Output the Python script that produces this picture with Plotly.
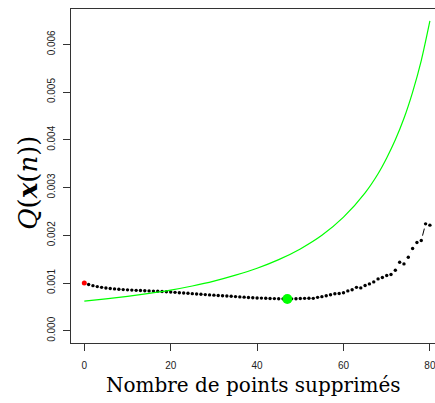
import plotly.graph_objects as go

# ---- data ----
n_removed = list(range(0, 81))
q_values = [1.000, 0.968, 0.945, 0.925, 0.910, 0.897, 0.886, 0.877, 0.869, 0.863,
            0.857, 0.852, 0.847, 0.843, 0.839, 0.835, 0.831, 0.827, 0.822, 0.817,
            0.811, 0.805, 0.798, 0.791, 0.785, 0.778, 0.771, 0.764, 0.758, 0.752,
            0.746, 0.740, 0.734, 0.728, 0.722, 0.716, 0.710, 0.704, 0.698, 0.693,
            0.688, 0.684, 0.680, 0.677, 0.674, 0.671, 0.669, 0.667, 0.669, 0.672,
            0.675, 0.679, 0.681, 0.679, 0.700, 0.715, 0.735, 0.755, 0.775, 0.782,
            0.795, 0.835, 0.860, 0.910, 0.898, 0.947, 0.982, 1.024, 1.087, 1.115,
            1.157, 1.178, 1.268, 1.436, 1.401, 1.541, 1.723, 1.848, 1.890, 2.240,
            2.212]
q_values = [v * 1e-3 for v in q_values]

curve_x = [0, 5, 10, 15, 20, 25, 30, 35, 40, 45, 50, 55, 60, 65, 68, 70, 72, 74, 76, 78, 80]
curve_y = [0.620, 0.668, 0.722, 0.783, 0.852, 0.938, 1.040, 1.165, 1.310, 1.490, 1.715,
           2.000, 2.380, 2.890, 3.290, 3.620, 4.000, 4.450, 5.000, 5.660, 6.490]
curve_y = [v * 1e-3 for v in curve_y]

x_ticks = [0, 20, 40, 60, 80]
y_ticks = [0.000, 0.001, 0.002, 0.003, 0.004, 0.005, 0.006]
y_tick_labels = ["0.000", "0.001", "0.002", "0.003", "0.004", "0.005", "0.006"]

best = min(range(len(q_values)), key=lambda i: q_values[i])

fig = go.Figure()
# R type="b": thin connecting line with gaps around points
fig.add_trace(go.Scatter(x=n_removed, y=q_values, mode="lines",
                         line=dict(color="black", width=1), hoverinfo="skip"))
fig.add_trace(go.Scatter(x=n_removed, y=q_values, mode="markers",
                         marker=dict(color="white", size=10, line=dict(width=0)),
                         hoverinfo="skip"))
fig.add_trace(go.Scatter(x=n_removed, y=q_values, mode="markers",
                         marker=dict(color="black", size=3.4, line=dict(width=0))))
fig.add_trace(go.Scatter(x=curve_x, y=curve_y, mode="lines",
                         line=dict(color="#00ff00", width=1.2, shape="spline", smoothing=0.8)))
fig.add_trace(go.Scatter(x=[n_removed[0]], y=[q_values[0]], mode="markers",
                         marker=dict(color="#ff0000", size=5, line=dict(width=0))))
fig.add_trace(go.Scatter(x=[n_removed[best]], y=[q_values[best]], mode="markers",
                         marker=dict(color="#00ff00", size=10, line=dict(width=0))))

axis_font = dict(family="Liberation Sans, Arial, sans-serif", size=10, color="#222")

fig.update_layout(
    width=435, height=403,
    margin=dict(l=71, r=0, t=9, b=60, pad=0),
    paper_bgcolor="white", plot_bgcolor="white",
    showlegend=False,
    xaxis=dict(range=[-3.08, 81.18], tickvals=x_ticks, ticktext=[str(t) for t in x_ticks],
               ticks="outside", ticklen=7, tickwidth=1, tickcolor="#333",
               showline=True, linecolor="#333", linewidth=1, mirror=True,
               showgrid=False, zeroline=False, tickfont=axis_font,
               ticklabelstandoff=6, automargin=False, ticklabeloverflow="allow"),
    yaxis=dict(range=[-0.000256, 0.00674], tickvals=y_ticks, ticktext=y_tick_labels,
               ticks="outside", ticklen=7, tickwidth=1, tickcolor="#333",
               showline=True, linecolor="#333", linewidth=1, mirror=False,
               showgrid=False, zeroline=False, tickfont=axis_font, tickangle=-90,
               ticklabelstandoff=4, automargin=False, ticklabeloverflow="allow"),
    annotations=[
        dict(text="Nombre de points supprimés", xref="paper", yref="paper",
             x=0.5, y=-0.127, xanchor="center", yanchor="middle", showarrow=False,
             font=dict(family="DejaVu Serif, serif", size=20, color="black")),
        dict(text="<i>Q</i>(<b><i>x</i></b>(<i>n</i>))", xref="paper", yref="paper",
             x=-0.118, y=0.48, xanchor="center", yanchor="middle", showarrow=False,
             textangle=-90,
             font=dict(family="DejaVu Serif, serif", size=26, color="black")),
    ],
)

fig.write_html("out.html", config={"displayModeBar": False},
               post_script="document.body.style.margin='0';document.body.style.padding='0';")
